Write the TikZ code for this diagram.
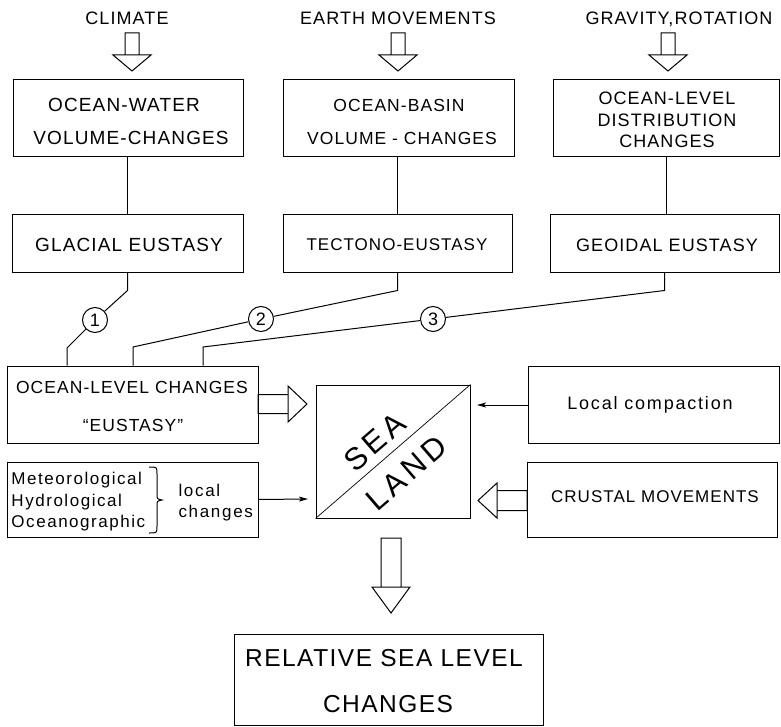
\documentclass[tikz,border=0pt]{standalone}
\usepackage{fontspec}
\setmainfont{Liberation Sans}[LetterSpace=6]
\usetikzlibrary{arrows.meta}
\newcommand\fs[1]{\fontsize{#1}{#1}\selectfont}
\begin{document}
\begin{tikzpicture}[x=1pt,y=-1pt,line width=1pt,
  box/.style={draw,inner sep=0pt},
  t/.style={inner sep=0pt},
  num/.style={draw,circle,inner sep=0pt,minimum size=25pt,font=\fs{18}\addfontfeatures{LetterSpace=0}},
  thinarr/.style={-{Stealth[length=9pt,width=5pt,inset=2pt]}},
  bigtxt/.style={inner sep=0pt,font=\fs{31}\addfontfeatures{LetterSpace=14}}]
\useasboundingbox (0,0) rectangle (781,727);
% top labels
\node[t,font=\fs{18}] (climate) at (127,18.5) {CLIMATE};
\node[t,font=\fs{18}] (earth) at (398,18) {EARTH MOVEMENTS};
\node[t,font=\fs{18},anchor=base] (grav) at (679,24.5) {GRAVITY,ROTATION};
% hollow down arrows
\foreach \cx in {132,398,668}{
  \draw[shift={(\cx,33)}] (-7,0) rectangle (7,22) (-19,22) -- (19,22) -- (0,38) -- cycle;
}
% first row boxes
\node[box,minimum width=230pt,minimum height=77pt] (b1) at (128,118.5) {};
\node[t,font=\fs{19}] (b1a) at (124,105) {OCEAN-WATER};
\node[t,font=\fs{19}] (b1b) at (131,138) {VOLUME-CHANGES};
\node[box,minimum width=231pt,minimum height=77pt] (b2) at (398.5,118.5) {};
\node[t,font=\fs{17.5}] (b2a) at (399,105) {OCEAN-BASIN};
\node[t,font=\fs{17.5}] (b2b) at (402,138) {VOLUME - CHANGES};
\node[box,minimum width=226pt,minimum height=77pt] (b3) at (666,118.5) {};
\node[t,font=\fs{18}] (b3a) at (667,98.5) {OCEAN-LEVEL};
\node[t,font=\fs{18}] (b3b) at (667,120) {DISTRIBUTION};
\node[t,font=\fs{18}] (b3c) at (667,141.5) {CHANGES};
% second row
\node[box,minimum width=231pt,minimum height=57pt] (g1) at (127.5,243.5) {};
\node[t,font=\fs{19}] (g1t) at (129,245) {GLACIAL EUSTASY};
\node[box,minimum width=229pt,minimum height=57pt] (g2) at (397.5,243.5) {};
\node[t,font=\fs{17}] (g2t) at (397,245) {TECTONO-EUSTASY};
\node[box,minimum width=229pt,minimum height=57pt] (g3) at (664.5,243.5) {};
\node[t,font=\fs{18}] (g3t) at (667,245) {GEOIDAL EUSTASY};
\draw (b1.south -| g1.south) -- (g1.north);
\draw (b2.south -| g2.south) -- (g2.north);
\draw (b3.south) -- (b3.south |- g3.north);
% ocean-level changes
\node[box,minimum width=251pt,minimum height=77pt] (ol) at (132.5,404.5) {};
\node[t,font=\fs{17.5}] (ola) at (132,387) {OCEAN-LEVEL CHANGES};
\node[t,font=\fs{17.5}] (olb) at (133,425) {``EUSTASY''};
% circles and connectors
\node[num] (c1) at (95,320) {1};
\node[num] (c2) at (261,319) {2};
\node[num] (c3) at (433,319) {3};
\coordinate (p1) at (67,348);
\coordinate (p2) at (133,347);
\coordinate (p3) at (203,347);
\draw (g1.south) -- ++(0,18) -- (c1);
\draw (c1) -- (p1) -- (p1 |- ol.north);
\draw (g2.south) -- ++(0,18) -- (c2);
\draw (c2) -- (p2) -- (p2 |- ol.north);
\draw (g3.south) -- ++(0,18) -- (c3);
\draw (c3) -- (p3) -- (p3 |- ol.north);
% local changes box
\node[box,minimum width=251pt,minimum height=75pt] (lc) at (132.5,499.5) {};
\node[anchor=west,inner sep=0pt,align=left,font=\fontsize{17}{21.5}\selectfont\addfontfeatures{LetterSpace=9}] (met) at (11,502) {Meteorological\\Hydrological\\Oceanographic};
\node[anchor=west,inner sep=0pt,align=left,font=\fontsize{17}{21}\selectfont\addfontfeatures{LetterSpace=10}] (loc) at (178,503) {local\\changes};
\draw (149,467) .. controls (157,467) .. (157,474) -- (157,494) .. controls (157,499) .. (162,500) .. controls (157,501) .. (157,506) -- (157,526) .. controls (157,533) .. (149,533);
% sea/land
\node[box,minimum width=154pt,minimum height=133pt] (sq) at (393,451.5) {};
\draw[line width=0.7pt] (sq.south west) -- (sq.north east);
\node[bigtxt,rotate=40.8] (sea) at (374.8,442.1) {SEA};
\node[bigtxt,rotate=40.8] (land) at (406.6,472.8) {LAND};
% hollow right arrow
\draw[shift={(258,404)}] (0,-9.5) rectangle (30,9.5) (30,-18) -- (30,18) -- (49,0) -- cycle;
\coordinate (t1) at (308,499);
\draw[thinarr] (lc.east) -- (t1);
% right boxes
\node[box,minimum width=251pt,minimum height=77pt] (comp) at (653.5,404.5) {};
\node[t,font=\fs{18}\addfontfeatures{LetterSpace=10}] (compt) at (650,405) {Local compaction};
\node[box,minimum width=250pt,minimum height=75pt] (crust) at (652,499.5) {};
\node[t,font=\fs{17}] (crustt) at (655,497) {CRUSTAL MOVEMENTS};
\coordinate (t2) at (477,405);
\draw[thinarr] (comp.west |- t2) -- (t2);
\draw[shift={(527,500.5)}] (0,-10) rectangle (-30,10) (-30,-17.5) -- (-30,17.5) -- (-49,0) -- cycle;
% down arrow
\draw[shift={(391,538)}] (-10,0) rectangle (10,49) (-19,49) -- (19,49) -- (0,75) -- cycle;
% result
\node[box,minimum width=309pt,minimum height=91pt] (rel) at (388.5,679.5) {};
\node[t,font=\fs{24.5}] (rela) at (384,658) {RELATIVE SEA LEVEL};
\node[t,font=\fs{24.5}] (relb) at (388,704) {CHANGES};
\end{tikzpicture}
\end{document}
